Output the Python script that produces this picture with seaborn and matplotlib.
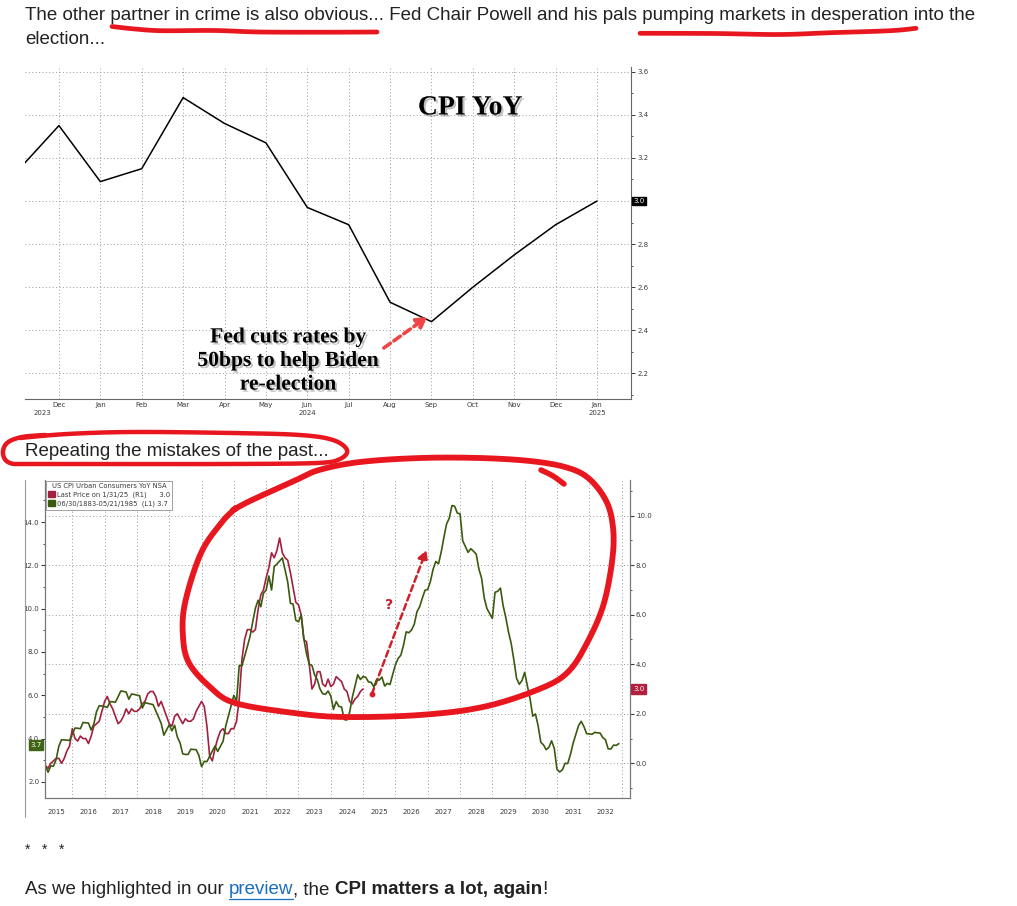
import numpy as np
import pandas as pd
import matplotlib
matplotlib.use("Agg")
import matplotlib.pyplot as plt
import matplotlib.transforms as mtransforms
import matplotlib.patheffects as pe
from matplotlib.lines import Line2D
from matplotlib.patches import Patch
import seaborn as sns

# ---------------- data ----------------
# chart 1: CPI YoY, Nov 2023 .. Jan 2025
recent_months = ["Nov", "Dec", "Jan", "Feb", "Mar", "Apr", "May", "Jun",
                 "Jul", "Aug", "Sep", "Oct", "Nov", "Dec", "Jan"]
recent_cpi = [3.14, 3.35, 3.09, 3.15, 3.48, 3.36, 3.27, 2.97,
              2.89, 2.53, 2.44, 2.60, 2.75, 2.89, 3.00]
recent_yticks = [2.2, 2.4, 2.6, 2.8, 3.0, 3.2, 3.4, 3.6]

# chart 2: current CPI YoY (R1), Jan 2015 .. Jan 2025
cpi_now = [
    -0.1, 0.0, -0.1, -0.2, 0.0, 0.1, 0.2, 0.2, 0.0, 0.2, 0.5, 0.7,
    1.4, 1.0, 0.9, 1.1, 1.0, 1.0, 0.8, 1.1, 1.5, 1.6, 1.7, 2.1,
    2.5, 2.7, 2.4, 2.2, 1.9, 1.6, 1.7, 1.9, 2.2, 2.0, 2.2, 2.1,
    2.1, 2.2, 2.4, 2.5, 2.8, 2.9, 2.9, 2.7, 2.3, 2.5, 2.2, 1.9,
    1.6, 1.5, 1.9, 2.0, 1.8, 1.6, 1.8, 1.7, 1.7, 1.8, 2.1, 2.3,
    2.5, 2.3, 1.5, 0.3, 0.1, 0.6, 1.0, 1.3, 1.4, 1.2, 1.2, 1.4,
    1.4, 1.7, 2.6, 4.2, 5.0, 5.4, 5.4, 5.3, 5.4, 6.2, 6.8, 7.0,
    7.5, 7.9, 8.5, 8.3, 8.6, 9.1, 8.5, 8.3, 8.2, 7.7, 7.1, 6.5,
    6.4, 6.0, 5.0, 4.9, 4.0, 3.0, 3.2, 3.7, 3.7, 3.2, 3.1, 3.4,
    3.1, 3.2, 3.5, 3.4, 3.3, 3.0, 2.9, 2.5, 2.4, 2.6, 2.7, 2.9,
    3.0,
]
# chart 2: historical CPI YoY (L1), Jun 1967 .. May 1985, overlaid from Jan 2015
cpi_then = [
    2.78, 2.77, 2.77, 2.45, 2.74, 2.73, 3.04,
    3.65, 3.95, 3.94, 3.93, 3.92, 4.20, 4.49, 4.48, 4.46, 4.75, 4.73, 4.72,
    4.40, 4.68, 5.25, 5.52, 5.51, 5.48, 5.44, 5.71, 5.70, 5.68, 5.93, 6.20,
    6.18, 6.15, 5.82, 6.06, 6.04, 6.01, 5.98, 5.41, 5.66, 5.63, 5.60, 5.57,
    5.28, 5.00, 4.71, 4.16, 4.40, 4.64, 4.36, 4.62, 4.08, 3.81, 3.30, 3.27,
    3.27, 3.51, 3.50, 3.49, 3.23, 2.71, 2.95, 2.94, 3.18, 3.42, 3.66, 3.41,
    3.65, 3.88, 4.59, 5.06, 5.53, 6.00, 5.73, 7.38, 7.36, 7.80, 8.25, 8.71,
    9.39, 10.02, 10.39, 10.09, 10.71, 10.86, 11.51, 10.86, 11.95, 12.06, 12.20, 12.34,
    11.80, 11.23, 10.25, 10.21, 9.47, 9.39, 9.72, 8.60, 7.91, 7.44, 7.38, 6.94,
    6.72, 6.29, 6.07, 6.05, 6.20, 5.97, 5.35, 5.71, 5.49, 5.46, 4.88, 4.86,
    5.22, 5.91, 6.44, 6.95, 6.73, 6.87, 6.83, 6.62, 6.60, 6.39, 6.72, 6.70,
    6.84, 6.43, 6.55, 6.50, 6.97, 7.41, 7.70, 7.85, 8.31, 8.93, 8.89, 9.02,
    9.28, 9.86, 10.09, 10.49, 10.85, 10.89, 11.26, 11.82, 12.18, 12.07, 12.61, 13.29,
    13.91, 14.18, 14.76, 14.73, 14.41, 14.38, 13.13, 12.87, 12.60, 12.77, 12.65, 12.52,
    11.83, 11.41, 10.49, 10.00, 9.78, 9.55, 10.76, 10.80, 10.95, 10.14, 9.59, 8.92,
    8.39, 7.62, 6.78, 6.51, 6.68, 7.06, 6.44, 5.85, 5.04, 5.14, 4.59, 3.83,
    3.71, 3.49, 3.60, 3.90, 3.55, 2.58, 2.46, 2.56, 2.86, 2.85, 3.27, 3.79,
    4.19, 4.60, 4.80, 4.56, 4.23, 4.22, 4.20, 4.29, 4.27, 4.26, 4.05, 3.95,
    3.53, 3.52, 3.70, 3.69, 3.77,
]
chart_years = list(range(2015, 2033))
left_ticks = [2, 4, 6, 8, 10, 12, 14]
right_ticks = [0, 2, 4, 6, 8, 10]

# ---------------- figure ----------------
W, H = 1017, 906
sns.set_style("white")
plt.rcParams["font.family"] = ["DejaVu Sans"]
fig = plt.figure(figsize=(W / 100, H / 100), dpi=100)
px = mtransforms.Affine2D().scale(1 / W, -1 / H).translate(0, 1) + fig.transFigure

SANS = "Liberation Sans"
SERIF = "Liberation Serif"
TXT = "#222222"
TICK = "#3a3a3a"
RED_PEN = "#e8171f"
GREEN = "#3a5a0e"
MAROON = "#a3203f"
BODY = 13.5


def box(x0, y0, x1, y1):
    return [x0 / W, 1 - y1 / H, (x1 - x0) / W, (y1 - y0) / H]


def smooth(pts, n=14):
    p = np.asarray(pts, float)
    p = np.vstack([p[0], p, p[-1]])
    out = []
    t = np.linspace(0, 1, n, endpoint=False)[:, None]
    for i in range(1, len(p) - 2):
        p0, p1, p2, p3 = p[i - 1], p[i], p[i + 1], p[i + 2]
        out.append(0.5 * (2 * p1 + (-p0 + p2) * t + (2 * p0 - 5 * p1 + 4 * p2 - p3) * t ** 2
                          + (-p0 + 3 * p1 - 3 * p2 + p3) * t ** 3))
    out.append(p[-2][None])
    return np.vstack(out)


def pen(pts, lw=3.6):
    s = smooth(pts)
    fig.add_artist(Line2D(s[:, 0], s[:, 1], transform=px, color=RED_PEN, lw=lw,
                          solid_capstyle="round", solid_joinstyle="round", zorder=20))


# ---------------- page text ----------------
fig.text(25, 15, "The other partner in crime is also obvious... Fed Chair Powell and his pals "
         "pumping markets in desperation into the", transform=px, family=SANS,
         fontsize=BODY, color=TXT, va="center")
fig.text(25, 40, "election...", transform=px, family=SANS, fontsize=BODY, color=TXT, va="center")
fig.text(25, 452, "Repeating the mistakes of the past...", transform=px, family=SANS,
         fontsize=BODY, color=TXT, va="center")
fig.text(25, 850, "*   *   *", transform=px, family=SANS, fontsize=10, color=TXT, va="center")

renderer = fig.canvas.get_renderer()
xpos = 25
for piece, weight, colour in [("As we highlighted in our ", "normal", TXT),
                              ("preview", "normal", "#1a6dbf"),
                              (", the ", "normal", TXT),
                              ("CPI matters a lot, again", "bold", TXT),
                              ("!", "normal", TXT)]:
    t = fig.text(xpos, 890, piece, transform=px, family=SANS, fontsize=BODY,
                 color=colour, weight=weight, va="center")
    wpx = t.get_window_extent(renderer=renderer).width
    if piece == "preview":
        fig.add_artist(Line2D([xpos, xpos + wpx], [899, 899], transform=px,
                              color=colour, lw=0.9))
    xpos += wpx

# ---------------- chart 1 ----------------
ax1 = fig.add_axes(box(25, 67, 631, 399))
df1 = pd.DataFrame({"m": np.arange(len(recent_cpi)), "cpi": recent_cpi})
sns.lineplot(data=df1, x="m", y="cpi", ax=ax1, color="black", lw=1.1)
ax1.set_xlim(0.18, 14.82)
ax1.set_ylim(2.081, 3.622)
ax1.set_xlabel("")
ax1.set_ylabel("")
ax1.yaxis.tick_right()
ax1.set_yticks(recent_yticks)
ax1.set_yticklabels(["" if v == 3.0 else f"{v:.1f}" for v in recent_yticks])
ax1.set_yticks(np.arange(2.1, 3.65, 0.1), minor=True)
ax1.set_xticks(range(1, len(recent_months)))
ax1.set_xticklabels(recent_months[1:])
ax1.tick_params(axis="y", which="major", labelsize=5, colors=TICK, length=3, width=0.7, pad=1.5)
ax1.tick_params(axis="x", which="major", labelsize=5, colors=TICK, length=2, width=0.7, pad=0)
ax1.tick_params(axis="y", which="minor", length=1.5, width=0.6, colors=TICK)
ax1.grid(True, which="major", ls=(0, (1, 2.5)), color="#9a9a9a", lw=0.7)
for s in ["left", "top"]:
    ax1.spines[s].set_visible(False)
for s in ["bottom", "right"]:
    ax1.spines[s].set_color("#666666")
    ax1.spines[s].set_linewidth(0.8)
yr1 = mtransforms.blended_transform_factory(ax1.transData, ax1.transAxes)
for m, lab in [(0.6, "2023"), (7, "2024"), (14, "2025")]:
    ax1.text(m, -0.043, lab, transform=yr1, ha="center", va="center", fontsize=5, color=TICK)
tag1 = mtransforms.blended_transform_factory(ax1.transAxes, ax1.transData)
ax1.text(1.004, 3.0, "3.0", transform=tag1, ha="left", va="center", fontsize=5, color="white",
         bbox=dict(boxstyle="square,pad=0.2", fc="black", ec="black"))

shadow = [pe.withSimplePatchShadow(offset=(1.5, -1.5), shadow_rgbFace="#666666", alpha=0.4)]
ax1.text(470, 108, "CPI YoY", transform=px, family=SERIF, weight="bold", fontsize=20,
         ha="center", va="center", color="black", path_effects=shadow)
ax1.text(288, 361, "Fed cuts rates by\n50bps to help Biden\nre-election", transform=px,
         family=SERIF, weight="bold", fontsize=15.5, ha="center", va="center",
         linespacing=1.24, color="black", path_effects=shadow)
ax1.annotate("", xy=(9.9, 2.462), xytext=(8.85, 2.318),
             arrowprops=dict(arrowstyle="-|>,head_length=0.6,head_width=0.35", color="#f04545",
                             lw=2.6, linestyle=(0, (2.2, 1.2)), shrinkA=0, shrinkB=0))

# ---------------- chart 2 ----------------
axR = fig.add_axes(box(45, 480, 630, 798))
axL = axR.twinx()
t_now = 2015 + np.arange(len(cpi_now)) / 12
t_then = 2015 + np.arange(len(cpi_then)) / 12
sns.lineplot(x=t_now, y=cpi_now, ax=axR, color=MAROON, lw=1.2)
sns.lineplot(x=t_then, y=cpi_then, ax=axL, color=GREEN, lw=1.2)
axR.set_xlim(2015.155, 2033.26)
axR.set_ylim(-1.40, 11.44)
axL.set_ylim(1.26, 15.94)

axR.yaxis.tick_right()
axR.set_yticks(right_ticks)
axR.set_yticklabels([f"{v:.1f}" for v in right_ticks])
axR.set_yticks(np.arange(-1, 12, 1), minor=True)
axL.yaxis.tick_left()
axL.set_yticks(left_ticks)
axL.set_yticklabels([f"{v:.1f}" for v in left_ticks])
axL.set_yticks(np.arange(2, 16, 1), minor=True)

axR.set_xticks(chart_years[1:] + [2033])
axR.set_xticklabels([])
axR.set_xticks([y + 0.5 for y in chart_years], minor=True)
axR.set_xticklabels([str(y) for y in chart_years], minor=True)
axR.tick_params(axis="x", which="major", length=13, width=0.7, colors="#777777")
axR.tick_params(axis="x", which="minor", length=0, labelsize=5, labelcolor=TICK, pad=8)
for a in (axR, axL):
    a.tick_params(axis="y", which="major", length=3, width=0.8, labelsize=5,
                  colors=TICK, pad=1.2)
    a.tick_params(axis="y", which="minor", length=1.6, width=0.6, colors=TICK)
    a.set_xlabel("")
    a.set_ylabel("")
    a.spines["top"].set_visible(False)
    for s in ["left", "right", "bottom"]:
        a.spines[s].set_color("#777777")
        a.spines[s].set_linewidth(0.8)
axR.grid(True, axis="y", which="major", ls=(0, (1, 2.5)), color="#9a9a9a", lw=0.7)
axR.grid(True, axis="x", which="major", ls=(0, (1, 2.5)), color="#9a9a9a", lw=0.7)
axR.set_axisbelow(True)

tagL = mtransforms.blended_transform_factory(axL.transAxes, axL.transData)
axL.text(-0.006, 3.7, "3.7", transform=tagL, ha="right", va="center", fontsize=5, color="white",
         bbox=dict(boxstyle="square,pad=0.25", fc="#3f6414", ec="#3f6414"), zorder=10)
tagR = mtransforms.blended_transform_factory(axR.transAxes, axR.transData)
axR.text(1.005, 3.0, "3.0", transform=tagR, ha="left", va="center", fontsize=5, color="white",
         bbox=dict(boxstyle="square,pad=0.25", fc="#b0213f", ec="#b0213f"), clip_on=False)

handles = [Patch(fc=MAROON, ec=MAROON), Patch(fc=GREEN, ec=GREEN)]
leg = axL.legend(handles, ["Last Price on 1/31/25  (R1)      3.0",
                           "06/30/1883-05/21/1985  (L1) 3.7"],
                 title="US CPI Urban Consumers YoY NSA", loc="upper left",
                 bbox_to_anchor=(0.0, 1.0), borderaxespad=0.1, fontsize=4.9,
                 title_fontsize=4.9, frameon=True, fancybox=False, edgecolor="#888888",
                 handlelength=0.9, handleheight=0.9, handletextpad=0.3,
                 labelspacing=0.3, borderpad=0.4)
leg.get_frame().set_linewidth(0.7)
leg.get_title().set_color(TICK)
for txt in leg.get_texts():
    txt.set_color(TICK)

axR.scatter([2025.27], [2.80], s=10, color="#d0202a", zorder=6)
axR.annotate("", xy=(2026.96, 8.61), xytext=(2025.27, 2.80),
             arrowprops=dict(arrowstyle="-|>,head_length=0.55,head_width=0.3", color="#d0202a",
                             lw=1.8, linestyle=(0, (2.5, 1.5)), shrinkA=0, shrinkB=0))
axR.text(2025.79, 6.39, "?", ha="center", va="center", fontsize=10, weight="bold",
         color="#c81e2c")

# page frame line left of chart 2
fig.add_artist(Line2D([25, 25], [480, 817], transform=px, color="#9a9a9a", lw=0.8))

# ---------------- hand-drawn red marks ----------------
pen([(112, 26.5), (135, 29), (162, 30.7), (214, 30.5), (260, 32), (325, 32.2), (377, 32)], lw=3.4)
pen([(640, 33.3), (714, 33.5), (779, 34.5), (831, 32.7), (890, 30.7), (916, 28.3)], lw=3.4)
pen([(20, 438), (67, 434), (133, 432), (233, 433), (300, 435), (333, 440), (347, 450),
     (340, 459), (317, 463), (233, 464), (133, 464), (33, 464), (10, 463), (3, 454),
     (7, 443), (22, 437), (45, 435)], lw=3.2)
pen([(233, 510), (252, 500), (294, 481), (319, 470), (360, 462), (420, 458), (480, 458),
     (530, 461), (565, 467), (587, 477), (604, 497), (612, 520), (613, 553), (604, 603),
     (587, 643), (567, 673), (537, 690), (483, 707), (420, 715), (344, 717), (294, 713),
     (235, 703), (210, 687), (189, 663), (183, 637), (185, 603), (201, 553), (222, 522),
     (236, 508)], lw=4.2)
pen([(541, 470), (553, 476), (564, 484)], lw=4.0)

fig.savefig("out.png", dpi=100)
